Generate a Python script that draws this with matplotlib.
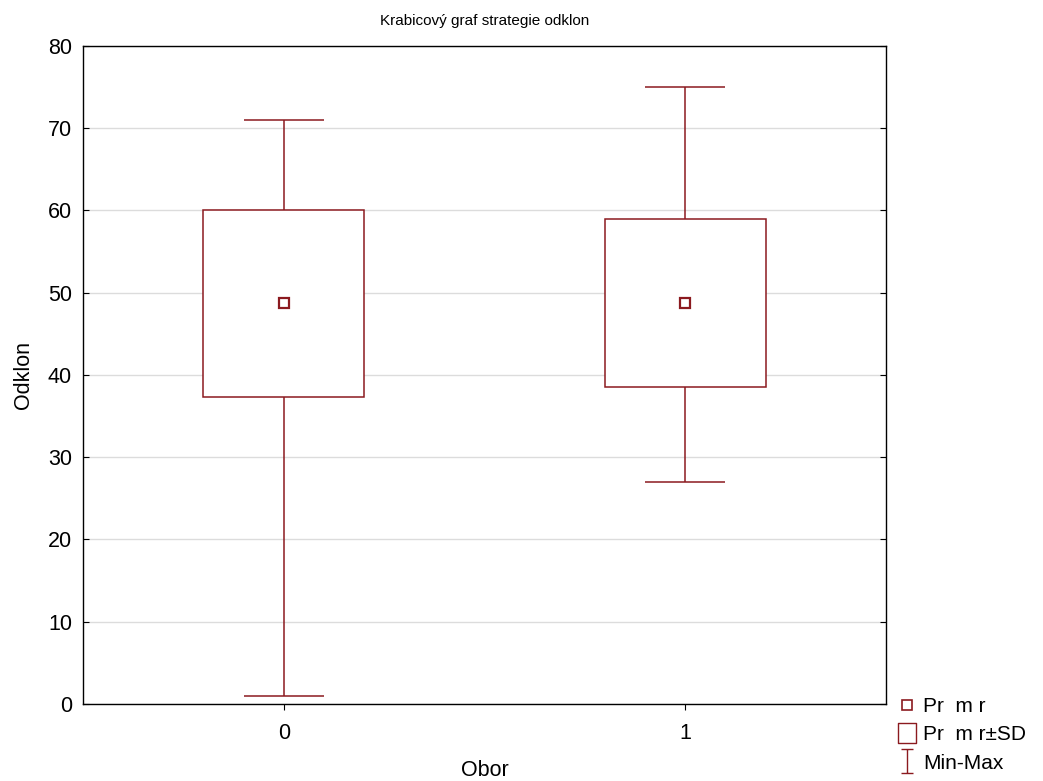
import matplotlib.pyplot as plt
from matplotlib.lines import Line2D
from matplotlib.path import Path

plt.rcParams['font.family'] = ['Liberation Sans', 'DejaVu Sans']

# data
groups = [0, 1]
means = [48.7, 48.8]
sd_low = [37.3, 38.5]
sd_high = [60.1, 59.0]
mins = [1.0, 27.0]
maxs = [71.0, 75.0]

col = '#8b1a1f'

fig = plt.figure(figsize=(10.43, 7.81), dpi=100)
ax = fig.add_axes([0.0796, 0.0986, 0.7699, 0.8425])

# boxes (mean +- SD)
heights = [h - l for h, l in zip(sd_high, sd_low)]
ax.bar(groups, heights, bottom=sd_low, width=0.4, facecolor='white',
       edgecolor=col, linewidth=1.1, zorder=3)
# whiskers + caps
ax.vlines(groups, sd_high, maxs, color=col, lw=1.1, zorder=3)
ax.vlines(groups, mins, sd_low, color=col, lw=1.1, zorder=3)
ax.hlines(maxs, [g - 0.1 for g in groups], [g + 0.1 for g in groups], color=col, lw=1.1, zorder=3)
ax.hlines(mins, [g - 0.1 for g in groups], [g + 0.1 for g in groups], color=col, lw=1.1, zorder=3)
# means
ax.plot(groups, means, linestyle='none', marker='s', markersize=7,
        markerfacecolor='white', markeredgecolor=col, markeredgewidth=1.6, zorder=4)

ax.set_xlim(-0.5, 1.5)
ax.set_ylim(0, 80)
ax.set_xticks(groups)
ax.set_yticks(range(0, 81, 10))
ax.grid(axis='y', color='#dcdcdc', lw=1.0, zorder=0)
ax.set_axisbelow(True)
ax.tick_params(axis='y', direction='in', length=4, right=True, labelsize=15.5, pad=8)
ax.tick_params(axis='x', direction='out', length=4, labelsize=15.5, pad=10)
for s in ax.spines.values():
    s.set_linewidth(1.0)

ax.set_title('Krabicový graf strategie odklon', fontsize=11, pad=15)
ax.set_xlabel('Obor', fontsize=15.5, labelpad=11)
ax.set_ylabel('Odklon', fontsize=15.5, labelpad=10)

# legend
imark = Path([(-0.55, -1), (0.55, -1), (0, -1), (0, 1), (-0.55, 1), (0.55, 1)],
             [Path.MOVETO, Path.LINETO, Path.MOVETO, Path.LINETO, Path.MOVETO, Path.LINETO])
rmark = Path([(-0.85, -1), (0.85, -1), (0.85, 1), (-0.85, 1), (-0.85, -1)],
             [Path.MOVETO, Path.LINETO, Path.LINETO, Path.LINETO, Path.CLOSEPOLY])
handles = [
    Line2D([], [], linestyle='none', marker='s', markersize=7, markerfacecolor='white',
           markeredgecolor=col, markeredgewidth=1.2),
    Line2D([], [], linestyle='none', marker=rmark, markersize=15, markerfacecolor='white',
           markeredgecolor=col, markeredgewidth=1.0),
    Line2D([], [], linestyle='none', marker=imark, markersize=17, markerfacecolor='none',
           markeredgecolor=col, markeredgewidth=1.0),
]
labels = ['Pr  m r', 'Pr  m r±SD', 'Min-Max']
fig.legend(handles, labels, loc='lower left', bbox_to_anchor=(0.846, -0.008),
           frameon=False, fontsize=15, handlelength=1.0, handletextpad=0.25,
           labelspacing=0.45, borderpad=0.2)

fig.savefig('out.png', dpi=100)
